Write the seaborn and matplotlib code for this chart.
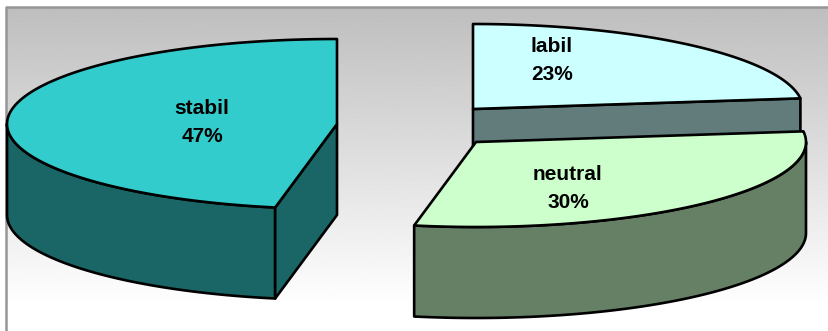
import numpy as np
import matplotlib
matplotlib.use("Agg")
import matplotlib.pyplot as plt
import seaborn as sns

# values
categories = ["labil", "neutral", "stabil"]
shares = [23, 30, 47]

# wedge colours: top face, then the darker wall
top_colors = ["#CCFFFF", "#CCFFCC", "#33CCCC"]
wall_colors = ["#627C7C", "#668066", "#1A6565"]

# where each slice is pulled out to, in pixels
centers = {"labil": (473, 109), "neutral": (476, 142), "stabil": (337, 124)}
label_pos = {"labil": (552, 61), "neutral": (568, 189), "stabil": (202, 123)}

RX, RY = 330, 85
DEPTH = 91
LW = 1.9

sns.set_theme(style="white")
plt.rcParams["font.family"] = ["Liberation Sans", "DejaVu Sans"]

fig = plt.figure(figsize=(8.29, 3.31), dpi=100)
ax = fig.add_axes([0, 0, 1, 1])
ax.axis("off")

# background gradient, grey on top fading to white
grad = np.linspace(0.745, 1.0, 300).reshape(-1, 1)
ax.imshow(grad, cmap="gray", vmin=0, vmax=1, aspect="auto",
          extent=(6, 829, 305, 7), zorder=0)
ax.set_xlim(0, 829)
ax.set_ylim(331, 0)
ax.plot([6, 6, 829], [331, 7, 7], color="#969696", lw=1.8, zorder=1)


def arc(cx, cy, a0, a1, dy=0):
    t = np.radians(np.linspace(a0, a1, 120))
    return cx + RX * np.cos(t), cy - RY * np.sin(t) + dy


def draw_poly(x, y, color):
    ax.fill(x, y, facecolor=color, edgecolor="black", lw=LW,
            joinstyle="round", zorder=2)


def draw_wall(cx, cy, lo, hi, color):
    xa, ya = arc(cx, cy, lo, hi)
    xb, yb = arc(cx, cy, hi, lo, DEPTH)
    draw_poly(np.r_[xa, xb], np.r_[ya, yb], color)


def draw_cut(cx, cy, angle, color):
    px, py = arc(cx, cy, angle, angle)
    draw_poly([cx, px[0], px[0], cx],
              [cy, py[0], py[0] + DEPTH, cy + DEPTH], color)


# angle ranges from the shares, clockwise from 12 o'clock
angles = {}
start = 90.0
for name, val in zip(categories, shares):
    angles[name] = (start, start - val * 3.6)
    start -= val * 3.6

# back to front: stabil, labil, neutral
for i in [2, 0, 1]:
    name = categories[i]
    cx, cy = centers[name]
    a0, a1 = angles[name]

    if name == "stabil":
        draw_wall(cx, cy, -180.0, a0, wall_colors[i])
        draw_cut(cx, cy, a0, wall_colors[i])
    elif name == "labil":
        draw_cut(cx, cy, a1, wall_colors[i])
    else:
        draw_wall(cx, cy, a1, 0.0, wall_colors[i])

    xt, yt = arc(cx, cy, a0, a1)
    draw_poly(np.r_[cx, xt], np.r_[cy, yt], top_colors[i])

    lx, ly = label_pos[name]
    ax.text(lx, ly, f"{name}\n{shares[i]}%", ha="center", va="center",
            fontsize=15, fontweight="bold", color="black",
            linespacing=1.6, zorder=3)

fig.savefig("out.png", dpi=100)
